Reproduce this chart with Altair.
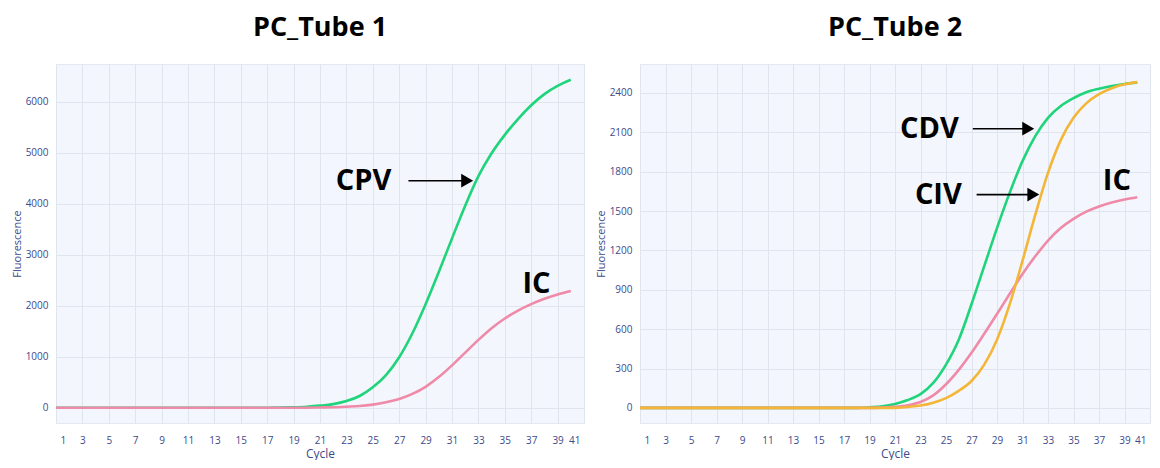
import altair as alt
import pandas as pd

# ---------------- data ----------------
cycles = list(range(1, 41))

tube1_cpv = [0] * 17 + [5, 10, 20, 40, 70, 130, 230, 400, 640, 990, 1460, 2030,
                        2660, 3320, 3960, 4540, 4990, 5350, 5660, 5930, 6150, 6310, 6430]
tube1_ic = [0] * 20 + [5, 10, 20, 32, 60, 105, 170, 270, 410, 600, 830, 1080, 1330,
                       1560, 1750, 1905, 2030, 2135, 2220, 2290]

tube2_cdv = [0] * 18 + [5, 12, 30, 60, 105, 190, 330, 520, 790, 1080, 1370, 1640, 1880,
                        2070, 2210, 2300, 2360, 2405, 2432, 2452, 2468, 2480]
tube2_civ = [0] * 21 + [8, 18, 40, 75, 130, 205, 330, 520, 790, 1120, 1470, 1790, 2040,
                        2210, 2320, 2390, 2435, 2465, 2482]
tube2_ic = [0] * 19 + [3, 8, 20, 45, 95, 180, 290, 420, 565, 715, 870, 1020, 1155, 1275,
                       1370, 1440, 1495, 1535, 1565, 1588, 1605]

x_ticks = list(range(1, 42, 2))
tube1_y_ticks = [0, 1000, 2000, 3000, 4000, 5000, 6000]
tube2_y_ticks = [0, 300, 600, 900, 1200, 1500, 1800, 2100, 2400]

tube1_labels = ["CPV", "IC"]
tube1_label_x = [24.3, 37.4]
tube1_label_y = [4452, 2417]
tube1_arrow_start = [27.7]
tube1_arrow_end = [32.7]
tube1_arrow_y = [4452]

tube2_labels = ["CDV", "CIV", "IC"]
tube2_label_x = [23.7, 24.4, 38.4]
tube2_label_y = [2127, 1625, 1732]
tube2_arrow_start = [27.1, 27.4]
tube2_arrow_end = [32.0, 32.4]
tube2_arrow_y = [2127, 1625]

GREEN = "#1fd47a"
PINK = "#ef8aa8"
ORANGE = "#f4b638"


def X(field):
    return alt.X(field, type="quantitative",
                 scale=alt.Scale(domain=[1, 41], nice=False, zero=False),
                 axis=alt.Axis(values=x_ticks, title="Cycle", labelFlush=True,
                               labelFlushOffset=-4, grid=True, format="d"))


def Y(field, dom, ticks):
    return alt.Y(field, type="quantitative",
                 scale=alt.Scale(domain=dom, nice=False, zero=False),
                 axis=alt.Axis(values=ticks, title="Fluorescence", grid=True, format="d"))


def panel(title, series, labels, lx, ly, a0, a1, ay, ydom, yticks, width):
    layers = []
    for vals, color in series:
        df = pd.DataFrame({"cycle": cycles, "value": vals})
        layers.append(
            alt.Chart(df).mark_line(interpolate="monotone", strokeWidth=2.6, color=color)
            .encode(x=X("cycle"), y=Y("value", ydom, yticks))
        )
    ldf = pd.DataFrame({"cycle": lx, "value": ly, "label": labels})
    layers.append(
        alt.Chart(ldf).mark_text(font="Open Sans", fontWeight="bold", fontSize=29,
                                 color="black", align="center", baseline="middle")
        .encode(x=X("cycle"), y=Y("value", ydom, yticks), text="label:N")
    )
    adf = pd.DataFrame({"cycle": a0, "cycle_end": a1, "value": ay})
    layers.append(
        alt.Chart(adf).transform_calculate(stop="datum.cycle_end - 0.5")
        .mark_rule(color="black", strokeWidth=1.6)
        .encode(x=X("cycle"), x2="stop:Q", y=Y("value", ydom, yticks))
    )
    layers.append(
        alt.Chart(adf).transform_calculate(head="datum.cycle_end - 0.55")
        .mark_point(shape="triangle-right", filled=True, size=190, color="black", opacity=1)
        .encode(x=X("head"), y=Y("value", ydom, yticks))
    )
    return alt.layer(*layers).properties(
        width=width, height=359,
        title=alt.TitleParams(title, frame="group"),
    )


left = panel("PC_Tube 1", [(tube1_cpv, GREEN), (tube1_ic, PINK)],
             tube1_labels, tube1_label_x, tube1_label_y,
             tube1_arrow_start, tube1_arrow_end, tube1_arrow_y,
             [-300, 6740], tube1_y_ticks, 528)

right = panel("PC_Tube 2", [(tube2_cdv, GREEN), (tube2_ic, PINK), (tube2_civ, ORANGE)],
              tube2_labels, tube2_label_x, tube2_label_y,
              tube2_arrow_start, tube2_arrow_end, tube2_arrow_y,
              [-115, 2620], tube2_y_ticks, 510)

chart = (
    alt.hconcat(left, right, spacing=9)
    .resolve_scale(x="independent", y="independent")
    .properties(padding={"left": 2, "top": 5, "right": 0, "bottom": 0}, background="white")
    .configure_view(fill="#f3f6fc", stroke="#e3e8f1")
    .configure_axis(gridColor="#dfe5ef", gridWidth=1, domain=False, ticks=False,
                    labelColor="#3d4a8a", titleColor="#3d4a8a",
                    labelFont="Open Sans", titleFont="Open Sans",
                    labelFontSize=10, titleFontWeight="normal")
    .configure_axisX(labelPadding=12, titlePadding=3, titleFontSize=12)
    .configure_axisY(labelPadding=8, titlePadding=3, titleFontSize=11)
    .configure_title(font="Open Sans", fontSize=27, fontWeight="bold", color="black",
                     anchor="middle", offset=22)
)

chart.save("out.html", embed_options={"renderer": "svg", "actions": False})
